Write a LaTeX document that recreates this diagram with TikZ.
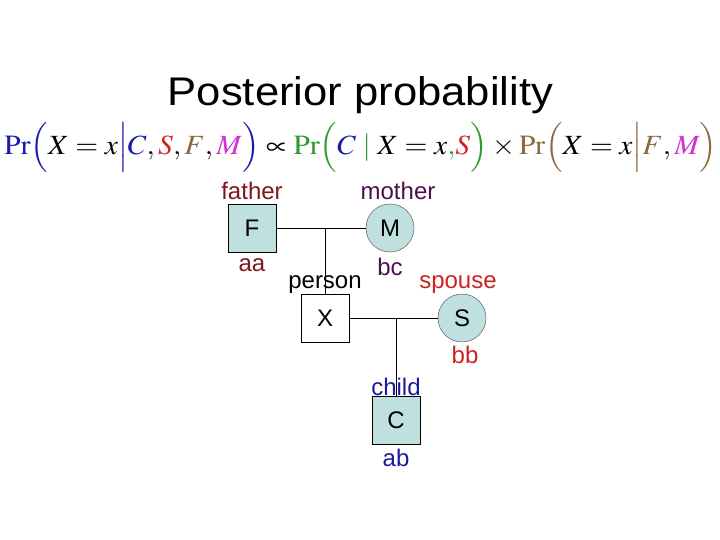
\documentclass[tikz,border=0pt]{standalone}
\usepackage{mathptmx}
\usepackage[no-math]{fontspec}
\setmainfont{Liberation Sans}
\usepackage{graphicx}
\usetikzlibrary{calc,
                positioning}

\definecolor{Shade}{RGB}{192,224,224}
\definecolor{Dad}{RGB}{122,26,26}
\definecolor{Mom}{RGB}{74,16,80}
\definecolor{Wife}{RGB}{204,34,34}
\definecolor{Kid}{RGB}{26,26,160}
\definecolor{PrBlue}{RGB}{26,26,176}
\definecolor{PrGreen}{RGB}{46,154,46}
\definecolor{PrBrown}{RGB}{140,105,62}
\definecolor{PrPink}{RGB}{208,48,208}
\definecolor{PrRed}{RGB}{208,32,32}

\begin{document}
\begin{tikzpicture}[x=1pt, y=-1pt,
                    Male/.style={draw, rectangle, minimum size=48pt, inner sep=0pt,
                                 font=\fontsize{24}{28}\selectfont},
                    Female/.style={draw=black!75, circle, minimum size=48pt, inner sep=0pt,
                                   font=\fontsize{24}{28}\selectfont},
                    every label/.style={font=\fontsize{24}{28}\selectfont, inner sep=0pt}
                    ]
    \useasboundingbox (0,0) rectangle (720,540);

    % TITLE %
    \node[anchor=base, inner sep=0pt, font=\fontsize{40}{46}\selectfont] at (360.5,106) (title)
        {\scalebox{1.09}[1]{Posterior probability}};

    % FORMULA %
    \node[inner sep=0pt] at (361,147.5) (formula) {\resizebox*{713pt}{50pt}{$
        {\color{PrBlue}\mathrm{Pr}\Bigl(} X = x {\color{PrBlue}\Bigm|} {\color{PrBlue}C}, {\color{PrRed}S}, {\color{PrBrown}F}, {\color{PrPink}M} {\color{PrBlue}\Bigr)}
        \propto
        {\color{PrGreen}\mathrm{Pr}\Bigl(} {\color{PrBlue}C} \mathrel{\color{PrGreen}|} X = x{\color{PrGreen},} {\color{PrRed}S} {\color{PrGreen}\Bigr)}
        \times
        {\color{PrBrown}\mathrm{Pr}\Bigl(} X = x {\color{PrBrown}\Bigm|} {\color{PrBrown}F}, {\color{PrPink}M} {\color{PrBrown}\Bigr)}
        $}};

    % PEDIGREE %
    \node[Male, fill=Shade, label={[text=Dad, label distance=4pt]above:father},
          label={[text=Dad, label distance=6pt]below:aa}] at (252,228) (F) {F};
    \node[Female, fill=Shade, label={[text=Mom, label distance=4pt, xshift=8pt]above:mother},
          label={[text=Mom, label distance=6pt]below:bc}] at (390,228) (M) {M};
    \node[Male, label={[label distance=0pt]above:person}] at (325,318) (X) {X};
    \node[Female, fill=Shade, label={[text=Wife, label distance=0pt, xshift=-4pt]above:spouse},
          label={[text=Wife, label distance=4pt, xshift=3pt]below:bb}] at (462,318) (S) {S};
    \node[Male, fill=Shade, label={[text=Kid, label distance=0pt]above:child},
          label={[text=Kid, label distance=5pt]below:ab}] at (396,420) (C) {C};

    \coordinate (FM) at (X.north |- F.east);
    \coordinate (XS) at (C.north |- X.east);

    \draw (F) -- (M);
    \draw (FM) -- (X);
    \draw (X) -- (S);
    \draw (XS) -- (C);

\end{tikzpicture}
\end{document}
